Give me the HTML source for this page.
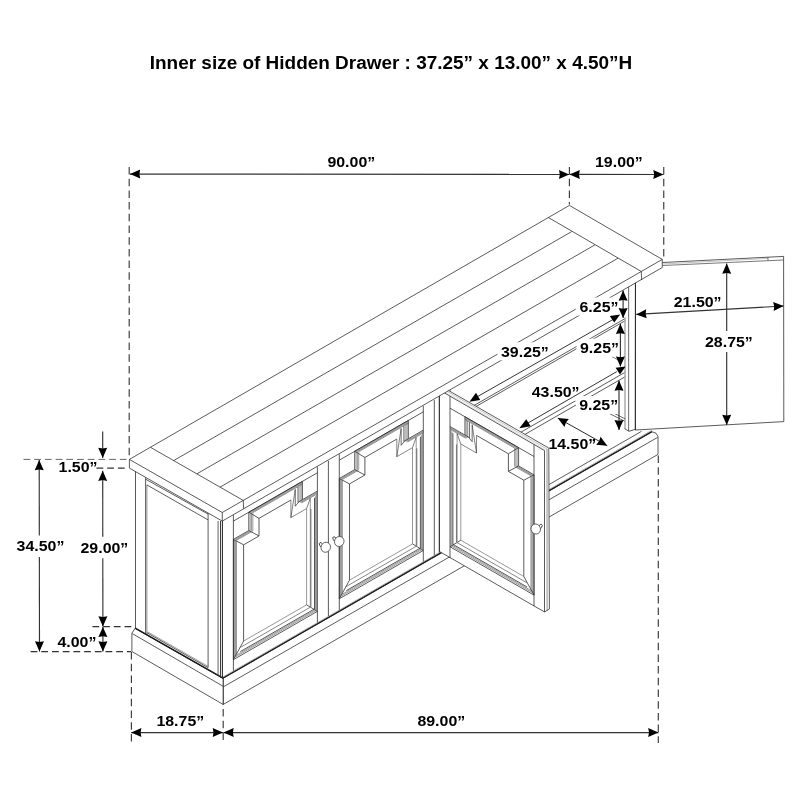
<!DOCTYPE html>
<html><head><meta charset="utf-8"><title>Sideboard dimensions</title>
<style>html,body{margin:0;padding:0;background:#fff;}svg{display:block;filter:grayscale(1);}</style></head>
<body><svg width="800" height="800" viewBox="0 0 800 800" font-family="'Liberation Sans', sans-serif">
<rect x="0" y="0" width="800" height="800" fill="#fff"/>
<line x1="455.00" y1="416.42" x2="625.50" y2="318.34" stroke="#2c2c2c" stroke-width="0.78" />
<line x1="455.00" y1="418.62" x2="625.50" y2="320.54" stroke="#2c2c2c" stroke-width="0.78" />
<line x1="500.00" y1="444.23" x2="625.50" y2="372.04" stroke="#2c2c2c" stroke-width="0.78" />
<line x1="500.00" y1="448.73" x2="625.50" y2="376.54" stroke="#2c2c2c" stroke-width="0.78" />
<line x1="625.00" y1="317.50" x2="625.00" y2="428.70" stroke="#aaa" stroke-width="1.5" />
<line x1="628.60" y1="284.00" x2="628.60" y2="431.00" stroke="#777" stroke-width="1.1" />
<polyline points="624.60,428.60 629.00,431.30 635.40,429.30" fill="none" stroke="#2c2c2c" stroke-width="0.8" stroke-linejoin="round" />
<line x1="608.75" y1="413.25" x2="624.50" y2="421.10" stroke="#2c2c2c" stroke-width="0.7" />
<line x1="614.00" y1="413.25" x2="625.25" y2="418.90" stroke="#2c2c2c" stroke-width="0.7" />
<line x1="611.50" y1="356.30" x2="618.00" y2="360.00" stroke="#2c2c2c" stroke-width="0.6" />
<line x1="540.00" y1="489.72" x2="641.50" y2="431.33" stroke="#2c2c2c" stroke-width="0.78" />
<polygon points="635.40,262.00 662.50,262.50 783.60,256.40 783.80,421.60 635.30,430.00" fill="white" stroke="#2c2c2c" stroke-width="0.78" stroke-linejoin="round" />
<line x1="662.50" y1="265.50" x2="783.60" y2="260.00" stroke="#555" stroke-width="0.8" />
<line x1="662.50" y1="264.00" x2="768.00" y2="258.40" stroke="#999" stroke-width="0.6" />
<line x1="768.00" y1="257.20" x2="768.00" y2="260.60" stroke="#2c2c2c" stroke-width="0.6" />
<line x1="635.50" y1="283.00" x2="635.40" y2="430.00" stroke="#2c2c2c" stroke-width="1.0" />
<polygon points="223.10,678.31 651.90,431.75 656.00,433.20 658.00,436.60 658.00,454.40 223.10,704.51 223.10,678.10" fill="white" stroke="#2c2c2c" stroke-width="0.78" stroke-linejoin="round" />
<line x1="223.10" y1="678.01" x2="651.90" y2="431.55" stroke="#1c1c1c" stroke-width="1.35" />
<line x1="223.10" y1="676.91" x2="651.90" y2="430.35" stroke="#777" stroke-width="0.6" />
<line x1="223.10" y1="687.01" x2="657.60" y2="437.40" stroke="#2c2c2c" stroke-width="0.78" />
<line x1="223.10" y1="678.10" x2="223.10" y2="704.40" stroke="#2c2c2c" stroke-width="0.78" />
<polygon points="135.25,628.10 223.10,678.10 223.10,704.40 131.90,651.50 131.90,633.10" fill="white" stroke="#2c2c2c" stroke-width="0.78" stroke-linejoin="round" />
<line x1="135.25" y1="628.10" x2="223.10" y2="678.10" stroke="#1c1c1c" stroke-width="1.3" />
<line x1="132.30" y1="633.60" x2="223.10" y2="686.25" stroke="#2c2c2c" stroke-width="0.78" />
<polygon points="135.50,471.50 135.50,628.10 223.00,678.00 223.00,521.00" fill="white" stroke="none" stroke-width="0" stroke-linejoin="round" />
<line x1="135.50" y1="471.00" x2="135.50" y2="628.10" stroke="#2c2c2c" stroke-width="0.78" />
<line x1="145.60" y1="477.46" x2="145.60" y2="633.60" stroke="#2c2c2c" stroke-width="0.78" />
<line x1="146.90" y1="484.91" x2="146.90" y2="634.50" stroke="#484848" stroke-width="0.6" />
<line x1="145.60" y1="479.16" x2="208.10" y2="514.11" stroke="#2c2c2c" stroke-width="0.78" />
<line x1="146.90" y1="484.91" x2="208.10" y2="519.91" stroke="#2c2c2c" stroke-width="0.78" />
<line x1="208.10" y1="513.01" x2="208.10" y2="667.60" stroke="#2c2c2c" stroke-width="0.78" />
<line x1="146.90" y1="632.70" x2="208.10" y2="667.60" stroke="#2c2c2c" stroke-width="0.78" />
<line x1="147.50" y1="631.80" x2="208.10" y2="666.30" stroke="#484848" stroke-width="0.5" />
<line x1="218.10" y1="521.00" x2="218.10" y2="676.00" stroke="#484848" stroke-width="0.5" />
<line x1="220.60" y1="521.00" x2="220.60" y2="677.50" stroke="#2c2c2c" stroke-width="0.78" />
<line x1="222.50" y1="521.00" x2="222.50" y2="678.00" stroke="#2c2c2c" stroke-width="0.78" />
<line x1="135.25" y1="628.10" x2="223.10" y2="678.10" stroke="#1c1c1c" stroke-width="1.3" />
<line x1="233.40" y1="515.09" x2="233.40" y2="670.79" stroke="#2c2c2c" stroke-width="0.78" />
<line x1="317.40" y1="466.77" x2="317.40" y2="622.47" stroke="#2c2c2c" stroke-width="0.78" />
<line x1="328.40" y1="460.94" x2="328.40" y2="616.14" stroke="#2c2c2c" stroke-width="0.78" />
<polyline points="233.40,659.69 233.40,539.39 248.80,530.53 248.80,512.23 302.45,481.37 302.45,499.67 317.40,491.07" fill="none" stroke="#2c2c2c" stroke-width="0.78" stroke-linejoin="round" />
<line x1="233.40" y1="521.09" x2="317.40" y2="472.77" stroke="#2c2c2c" stroke-width="0.78" />
<line x1="233.40" y1="659.69" x2="317.40" y2="611.37" stroke="#2c2c2c" stroke-width="0.78" />
<polyline points="243.60,641.07 243.60,544.82 259.00,535.96 259.00,518.36 290.90,500.01" fill="none" stroke="#2c2c2c" stroke-width="0.78" stroke-linejoin="round" />
<polyline points="290.90,500.01 290.90,517.61 306.60,508.58" fill="none" stroke="#555" stroke-width="0.7" stroke-linejoin="round" />
<polyline points="306.60,508.58 306.60,604.83 243.60,641.07" fill="none" stroke="#777" stroke-width="0.75" stroke-linejoin="round" />
<line x1="233.40" y1="659.69" x2="243.60" y2="641.07" stroke="#2c2c2c" stroke-width="0.78" />
<line x1="317.40" y1="611.37" x2="306.60" y2="604.83" stroke="#2c2c2c" stroke-width="0.78" />
<line x1="233.40" y1="539.39" x2="243.60" y2="544.82" stroke="#2c2c2c" stroke-width="0.78" />
<line x1="248.80" y1="530.53" x2="259.00" y2="535.96" stroke="#2c2c2c" stroke-width="0.78" />
<line x1="248.80" y1="512.23" x2="259.00" y2="518.36" stroke="#2c2c2c" stroke-width="0.78" />
<line x1="234.50" y1="539.96" x2="234.50" y2="657.73" stroke="#484848" stroke-width="0.55" />
<line x1="250.23" y1="512.40" x2="250.23" y2="530.59" stroke="#484848" stroke-width="0.55" />
<line x1="250.23" y1="512.40" x2="302.45" y2="482.36" stroke="#484848" stroke-width="0.55" />
<line x1="234.50" y1="539.74" x2="250.23" y2="530.70" stroke="#484848" stroke-width="0.55" />
<line x1="299.65" y1="502.27" x2="317.40" y2="492.06" stroke="#484848" stroke-width="0.55" />
<line x1="235.50" y1="540.49" x2="235.50" y2="655.96" stroke="#484848" stroke-width="0.55" />
<line x1="251.53" y1="512.55" x2="251.53" y2="530.64" stroke="#484848" stroke-width="0.55" />
<line x1="251.53" y1="512.55" x2="302.45" y2="483.26" stroke="#484848" stroke-width="0.55" />
<line x1="235.50" y1="540.07" x2="251.53" y2="530.85" stroke="#484848" stroke-width="0.55" />
<line x1="300.65" y1="502.59" x2="317.40" y2="492.96" stroke="#484848" stroke-width="0.55" />
<line x1="236.50" y1="541.01" x2="236.50" y2="654.18" stroke="#484848" stroke-width="0.55" />
<line x1="252.83" y1="512.70" x2="252.83" y2="530.69" stroke="#484848" stroke-width="0.55" />
<line x1="252.83" y1="512.70" x2="302.45" y2="484.16" stroke="#484848" stroke-width="0.55" />
<line x1="236.50" y1="540.39" x2="252.83" y2="531.00" stroke="#484848" stroke-width="0.55" />
<line x1="301.65" y1="502.92" x2="317.40" y2="493.86" stroke="#484848" stroke-width="0.55" />
<line x1="310.90" y1="509.11" x2="310.90" y2="606.86" stroke="#888" stroke-width="1.1" />
<line x1="314.50" y1="497.74" x2="314.50" y2="608.94" stroke="#2c2c2c" stroke-width="0.8" />
<line x1="315.50" y1="496.16" x2="315.50" y2="609.56" stroke="#484848" stroke-width="0.55" />
<line x1="316.50" y1="494.58" x2="316.50" y2="610.38" stroke="#484848" stroke-width="0.55" />
<line x1="295.25" y1="489.41" x2="295.25" y2="506.26" stroke="#2c2c2c" stroke-width="0.7" />
<line x1="298.05" y1="486.90" x2="298.05" y2="502.50" stroke="#2c2c2c" stroke-width="0.8" />
<line x1="299.95" y1="485.40" x2="299.95" y2="501.40" stroke="#484848" stroke-width="0.55" />
<line x1="301.20" y1="484.09" x2="301.20" y2="500.69" stroke="#484848" stroke-width="0.55" />
<line x1="295.25" y1="506.26" x2="298.55" y2="502.21" stroke="#2c2c2c" stroke-width="0.7" />
<line x1="298.05" y1="502.20" x2="302.45" y2="499.67" stroke="#2c2c2c" stroke-width="0.78" />
<line x1="290.90" y1="517.61" x2="295.25" y2="489.41" stroke="#2c2c2c" stroke-width="0.6" />
<line x1="306.60" y1="508.58" x2="310.30" y2="498.35" stroke="#2c2c2c" stroke-width="0.6" />
<line x1="310.30" y1="498.35" x2="310.30" y2="607.20" stroke="#484848" stroke-width="0.55" />
<line x1="239.60" y1="647.87" x2="310.90" y2="606.86" stroke="#888" stroke-width="1.0" />
<line x1="240.40" y1="651.56" x2="314.50" y2="608.94" stroke="#2c2c2c" stroke-width="0.8" />
<line x1="234.90" y1="655.97" x2="315.50" y2="609.61" stroke="#484848" stroke-width="0.55" />
<line x1="234.20" y1="657.68" x2="316.50" y2="610.33" stroke="#484848" stroke-width="0.55" />
<line x1="339.30" y1="454.17" x2="339.30" y2="609.87" stroke="#2c2c2c" stroke-width="0.78" />
<line x1="423.30" y1="405.85" x2="423.30" y2="561.55" stroke="#2c2c2c" stroke-width="0.78" />
<line x1="434.30" y1="400.02" x2="434.30" y2="555.22" stroke="#2c2c2c" stroke-width="0.78" />
<polyline points="339.30,598.77 339.30,478.47 354.70,469.61 354.70,451.31 408.35,420.45 408.35,438.75 423.30,430.15" fill="none" stroke="#2c2c2c" stroke-width="0.78" stroke-linejoin="round" />
<line x1="339.30" y1="460.17" x2="423.30" y2="411.85" stroke="#2c2c2c" stroke-width="0.78" />
<line x1="339.30" y1="598.77" x2="423.30" y2="550.45" stroke="#2c2c2c" stroke-width="0.78" />
<polyline points="349.50,580.15 349.50,483.90 364.90,475.04 364.90,457.44 396.80,439.09" fill="none" stroke="#2c2c2c" stroke-width="0.78" stroke-linejoin="round" />
<polyline points="396.80,439.09 396.80,456.69 412.50,447.66" fill="none" stroke="#555" stroke-width="0.7" stroke-linejoin="round" />
<polyline points="412.50,447.66 412.50,543.91 349.50,580.15" fill="none" stroke="#777" stroke-width="0.75" stroke-linejoin="round" />
<line x1="339.30" y1="598.77" x2="349.50" y2="580.15" stroke="#2c2c2c" stroke-width="0.78" />
<line x1="423.30" y1="550.45" x2="412.50" y2="543.91" stroke="#2c2c2c" stroke-width="0.78" />
<line x1="339.30" y1="478.47" x2="349.50" y2="483.90" stroke="#2c2c2c" stroke-width="0.78" />
<line x1="354.70" y1="469.61" x2="364.90" y2="475.04" stroke="#2c2c2c" stroke-width="0.78" />
<line x1="354.70" y1="451.31" x2="364.90" y2="457.44" stroke="#2c2c2c" stroke-width="0.78" />
<line x1="340.40" y1="479.05" x2="340.40" y2="596.82" stroke="#484848" stroke-width="0.55" />
<line x1="356.13" y1="451.48" x2="356.13" y2="469.67" stroke="#484848" stroke-width="0.55" />
<line x1="356.13" y1="451.48" x2="408.35" y2="421.44" stroke="#484848" stroke-width="0.55" />
<line x1="340.40" y1="478.83" x2="356.13" y2="469.78" stroke="#484848" stroke-width="0.55" />
<line x1="405.55" y1="441.35" x2="423.30" y2="431.14" stroke="#484848" stroke-width="0.55" />
<line x1="341.40" y1="479.57" x2="341.40" y2="595.04" stroke="#484848" stroke-width="0.55" />
<line x1="357.43" y1="451.63" x2="357.43" y2="469.72" stroke="#484848" stroke-width="0.55" />
<line x1="357.43" y1="451.63" x2="408.35" y2="422.34" stroke="#484848" stroke-width="0.55" />
<line x1="341.40" y1="479.15" x2="357.43" y2="469.93" stroke="#484848" stroke-width="0.55" />
<line x1="406.55" y1="441.68" x2="423.30" y2="432.04" stroke="#484848" stroke-width="0.55" />
<line x1="342.40" y1="480.10" x2="342.40" y2="593.27" stroke="#484848" stroke-width="0.55" />
<line x1="358.73" y1="451.78" x2="358.73" y2="469.77" stroke="#484848" stroke-width="0.55" />
<line x1="358.73" y1="451.78" x2="408.35" y2="423.24" stroke="#484848" stroke-width="0.55" />
<line x1="342.40" y1="479.48" x2="358.73" y2="470.08" stroke="#484848" stroke-width="0.55" />
<line x1="407.55" y1="442.00" x2="423.30" y2="432.94" stroke="#484848" stroke-width="0.55" />
<line x1="416.80" y1="448.19" x2="416.80" y2="545.94" stroke="#888" stroke-width="1.1" />
<line x1="420.40" y1="436.82" x2="420.40" y2="548.02" stroke="#2c2c2c" stroke-width="0.8" />
<line x1="421.40" y1="435.24" x2="421.40" y2="548.64" stroke="#484848" stroke-width="0.55" />
<line x1="422.40" y1="433.67" x2="422.40" y2="549.47" stroke="#484848" stroke-width="0.55" />
<line x1="401.15" y1="428.49" x2="401.15" y2="445.34" stroke="#2c2c2c" stroke-width="0.7" />
<line x1="403.95" y1="425.98" x2="403.95" y2="441.58" stroke="#2c2c2c" stroke-width="0.8" />
<line x1="405.85" y1="424.49" x2="405.85" y2="440.49" stroke="#484848" stroke-width="0.55" />
<line x1="407.10" y1="423.17" x2="407.10" y2="439.77" stroke="#484848" stroke-width="0.55" />
<line x1="401.15" y1="445.34" x2="404.45" y2="441.29" stroke="#2c2c2c" stroke-width="0.7" />
<line x1="403.95" y1="441.28" x2="408.35" y2="438.75" stroke="#2c2c2c" stroke-width="0.78" />
<line x1="396.80" y1="456.69" x2="401.15" y2="428.49" stroke="#2c2c2c" stroke-width="0.6" />
<line x1="412.50" y1="447.66" x2="416.20" y2="437.43" stroke="#2c2c2c" stroke-width="0.6" />
<line x1="416.20" y1="437.43" x2="416.20" y2="546.28" stroke="#484848" stroke-width="0.55" />
<line x1="345.50" y1="586.95" x2="416.80" y2="545.94" stroke="#888" stroke-width="1.0" />
<line x1="346.30" y1="590.64" x2="420.40" y2="548.02" stroke="#2c2c2c" stroke-width="0.8" />
<line x1="340.80" y1="595.06" x2="421.40" y2="548.69" stroke="#484848" stroke-width="0.55" />
<line x1="340.10" y1="596.76" x2="422.40" y2="549.42" stroke="#484848" stroke-width="0.55" />
<line x1="439.40" y1="396.59" x2="439.40" y2="552.59" stroke="#2c2c2c" stroke-width="0.78" />
<line x1="450.20" y1="390.38" x2="450.20" y2="546.38" stroke="#2c2c2c" stroke-width="0.78" />
<line x1="218.10" y1="521.00" x2="218.10" y2="676.00" stroke="#484848" stroke-width="0.5" />
<line x1="220.60" y1="521.00" x2="220.60" y2="677.50" stroke="#2c2c2c" stroke-width="0.78" />
<line x1="222.50" y1="521.00" x2="222.50" y2="678.00" stroke="#2c2c2c" stroke-width="0.78" />
<polygon points="439.40,390.06 443.40,387.56 548.80,448.04 549.40,609.04 544.50,611.94 439.40,551.46" fill="white" stroke="none" stroke-width="0" stroke-linejoin="round" />
<line x1="534.00" y1="444.50" x2="534.00" y2="606.20" stroke="#2c2c2c" stroke-width="0.78" />
<line x1="450.00" y1="396.16" x2="450.00" y2="557.86" stroke="#2c2c2c" stroke-width="0.78" />
<line x1="439.40" y1="390.56" x2="439.40" y2="551.76" stroke="#2c2c2c" stroke-width="0.78" />
<polyline points="534.00,595.10 534.00,474.80 518.60,465.94 518.60,447.64 464.95,416.76 464.95,435.06 450.00,426.46" fill="none" stroke="#2c2c2c" stroke-width="0.78" stroke-linejoin="round" />
<line x1="534.00" y1="456.50" x2="450.00" y2="408.16" stroke="#2c2c2c" stroke-width="0.78" />
<line x1="534.00" y1="595.10" x2="450.00" y2="546.76" stroke="#2c2c2c" stroke-width="0.78" />
<polyline points="523.80,576.48 523.80,480.23 508.40,471.37 508.40,453.77 476.50,435.41" fill="none" stroke="#2c2c2c" stroke-width="0.78" stroke-linejoin="round" />
<polyline points="476.50,435.41 476.50,453.01 460.80,443.97" fill="none" stroke="#555" stroke-width="0.7" stroke-linejoin="round" />
<polyline points="460.80,443.97 460.80,540.22 523.80,576.48" fill="none" stroke="#777" stroke-width="0.75" stroke-linejoin="round" />
<line x1="534.00" y1="595.10" x2="523.80" y2="576.48" stroke="#2c2c2c" stroke-width="0.78" />
<line x1="450.00" y1="546.76" x2="460.80" y2="540.22" stroke="#2c2c2c" stroke-width="0.78" />
<line x1="534.00" y1="474.80" x2="523.80" y2="480.23" stroke="#2c2c2c" stroke-width="0.78" />
<line x1="518.60" y1="465.94" x2="508.40" y2="471.37" stroke="#2c2c2c" stroke-width="0.78" />
<line x1="518.60" y1="447.64" x2="508.40" y2="453.77" stroke="#2c2c2c" stroke-width="0.78" />
<line x1="532.90" y1="475.38" x2="532.90" y2="593.15" stroke="#484848" stroke-width="0.55" />
<line x1="517.17" y1="447.80" x2="517.17" y2="465.99" stroke="#484848" stroke-width="0.55" />
<line x1="517.17" y1="447.80" x2="464.95" y2="417.75" stroke="#484848" stroke-width="0.55" />
<line x1="532.90" y1="475.16" x2="517.17" y2="466.10" stroke="#484848" stroke-width="0.55" />
<line x1="467.75" y1="437.66" x2="450.00" y2="427.45" stroke="#484848" stroke-width="0.55" />
<line x1="531.90" y1="475.90" x2="531.90" y2="591.37" stroke="#484848" stroke-width="0.55" />
<line x1="515.87" y1="447.96" x2="515.87" y2="466.05" stroke="#484848" stroke-width="0.55" />
<line x1="515.87" y1="447.96" x2="464.95" y2="418.65" stroke="#484848" stroke-width="0.55" />
<line x1="531.90" y1="475.48" x2="515.87" y2="466.26" stroke="#484848" stroke-width="0.55" />
<line x1="466.75" y1="437.99" x2="450.00" y2="428.35" stroke="#484848" stroke-width="0.55" />
<line x1="530.90" y1="476.43" x2="530.90" y2="589.60" stroke="#484848" stroke-width="0.55" />
<line x1="514.57" y1="448.11" x2="514.57" y2="466.10" stroke="#484848" stroke-width="0.55" />
<line x1="514.57" y1="448.11" x2="464.95" y2="419.55" stroke="#484848" stroke-width="0.55" />
<line x1="530.90" y1="475.81" x2="514.57" y2="466.41" stroke="#484848" stroke-width="0.55" />
<line x1="465.75" y1="438.31" x2="450.00" y2="429.25" stroke="#484848" stroke-width="0.55" />
<line x1="456.50" y1="444.50" x2="456.50" y2="542.25" stroke="#888" stroke-width="1.1" />
<line x1="452.90" y1="433.13" x2="452.90" y2="544.33" stroke="#2c2c2c" stroke-width="0.8" />
<line x1="451.90" y1="431.55" x2="451.90" y2="544.95" stroke="#484848" stroke-width="0.55" />
<line x1="450.90" y1="429.98" x2="450.90" y2="545.78" stroke="#484848" stroke-width="0.55" />
<line x1="472.15" y1="424.81" x2="472.15" y2="441.66" stroke="#2c2c2c" stroke-width="0.7" />
<line x1="469.35" y1="422.29" x2="469.35" y2="437.89" stroke="#2c2c2c" stroke-width="0.8" />
<line x1="467.45" y1="420.80" x2="467.45" y2="436.80" stroke="#484848" stroke-width="0.55" />
<line x1="466.20" y1="419.48" x2="466.20" y2="436.08" stroke="#484848" stroke-width="0.55" />
<line x1="472.15" y1="441.66" x2="468.85" y2="437.61" stroke="#2c2c2c" stroke-width="0.7" />
<line x1="469.35" y1="437.59" x2="464.95" y2="435.06" stroke="#2c2c2c" stroke-width="0.78" />
<line x1="476.50" y1="453.01" x2="472.15" y2="424.81" stroke="#2c2c2c" stroke-width="0.6" />
<line x1="460.80" y1="443.97" x2="457.10" y2="433.74" stroke="#2c2c2c" stroke-width="0.6" />
<line x1="457.10" y1="433.74" x2="457.10" y2="542.59" stroke="#484848" stroke-width="0.55" />
<line x1="527.80" y1="583.28" x2="456.50" y2="542.25" stroke="#888" stroke-width="1.0" />
<line x1="527.00" y1="586.97" x2="452.90" y2="544.33" stroke="#2c2c2c" stroke-width="0.8" />
<line x1="532.50" y1="591.39" x2="451.90" y2="545.00" stroke="#484848" stroke-width="0.55" />
<line x1="533.20" y1="593.09" x2="450.90" y2="545.73" stroke="#484848" stroke-width="0.55" />
<line x1="439.40" y1="390.06" x2="544.50" y2="450.54" stroke="#2c2c2c" stroke-width="0.78" />
<line x1="544.50" y1="450.54" x2="544.50" y2="611.94" stroke="#2c2c2c" stroke-width="0.78" />
<line x1="439.40" y1="551.46" x2="544.50" y2="611.94" stroke="#2c2c2c" stroke-width="0.78" />
<line x1="439.40" y1="390.06" x2="439.40" y2="551.46" stroke="#2c2c2c" stroke-width="0.78" />
<line x1="443.40" y1="387.56" x2="548.80" y2="448.04" stroke="#2c2c2c" stroke-width="0.78" />
<line x1="442.00" y1="388.36" x2="547.00" y2="449.04" stroke="#888" stroke-width="0.5" />
<line x1="440.40" y1="389.36" x2="545.50" y2="449.94" stroke="#aaa" stroke-width="0.4" />
<line x1="548.80" y1="448.04" x2="549.40" y2="609.04" stroke="#2c2c2c" stroke-width="0.78" />
<line x1="547.00" y1="449.04" x2="547.10" y2="610.54" stroke="#484848" stroke-width="0.6" />
<line x1="544.50" y1="611.94" x2="549.40" y2="609.04" stroke="#2c2c2c" stroke-width="0.78" />
<polygon points="129.40,459.40 569.40,205.40 662.25,259.40 662.25,267.50 222.25,521.10 129.40,468.10" fill="white" stroke="#2c2c2c" stroke-width="0.78" stroke-linejoin="round" />
<polyline points="129.40,459.40 222.25,512.50 662.25,259.40" fill="none" stroke="#2c2c2c" stroke-width="0.78" stroke-linejoin="round" />
<line x1="222.25" y1="512.50" x2="222.25" y2="521.10" stroke="#2c2c2c" stroke-width="0.78" />
<line x1="243.25" y1="500.42" x2="150.40" y2="447.28" stroke="#2c2c2c" stroke-width="0.78" />
<line x1="243.25" y1="500.42" x2="243.65" y2="508.92" stroke="#2c2c2c" stroke-width="0.78" />
<line x1="641.25" y1="271.48" x2="548.40" y2="217.52" stroke="#2c2c2c" stroke-width="0.78" />
<line x1="641.25" y1="271.48" x2="641.65" y2="279.98" stroke="#2c2c2c" stroke-width="0.78" />
<line x1="220.04" y1="487.15" x2="618.04" y2="258.20" stroke="#2c2c2c" stroke-width="0.78" />
<line x1="196.82" y1="473.87" x2="594.83" y2="244.93" stroke="#2c2c2c" stroke-width="0.78" />
<line x1="173.61" y1="460.60" x2="571.61" y2="231.65" stroke="#2c2c2c" stroke-width="0.78" />
<ellipse cx="321.15" cy="544.85" rx="1.5" ry="2.5" transform="rotate(-28 321.15 544.85)" fill="white" stroke="#333" stroke-width="0.8"/>
<ellipse cx="325.75" cy="547.25" rx="4.7" ry="5.1" transform="rotate(25 325.75 547.25)" fill="white" stroke="#444" stroke-width="0.75"/>
<ellipse cx="334.65" cy="539.10" rx="1.5" ry="2.5" transform="rotate(-28 334.65 539.10)" fill="white" stroke="#333" stroke-width="0.8"/>
<ellipse cx="339.25" cy="541.50" rx="4.7" ry="5.1" transform="rotate(25 339.25 541.50)" fill="white" stroke="#444" stroke-width="0.75"/>
<ellipse cx="540.35" cy="526.60" rx="1.5" ry="2.5" transform="rotate(28 540.35 526.60)" fill="white" stroke="#333" stroke-width="0.8"/>
<ellipse cx="535.75" cy="529.00" rx="4.7" ry="5.1" transform="rotate(-25 535.75 529.00)" fill="white" stroke="#444" stroke-width="0.75"/>
<rect x="575.70" y="297.60" width="43.80" height="17.90" fill="white"/>
<rect x="497.50" y="342.35" width="52.70" height="17.90" fill="white"/>
<rect x="576.50" y="338.70" width="43.50" height="17.90" fill="white"/>
<rect x="528.25" y="382.85" width="52.70" height="17.90" fill="white"/>
<rect x="575.90" y="396.10" width="43.60" height="17.90" fill="white"/>
<rect x="549.70" y="434.60" width="47.80" height="17.90" fill="white"/>
<line x1="129.20" y1="167.00" x2="129.20" y2="458.00" stroke="#3a3a3a" stroke-width="1.15" stroke-dasharray="7.5 4.2"/>
<line x1="569.40" y1="167.00" x2="569.40" y2="204.50" stroke="#3a3a3a" stroke-width="1.15" stroke-dasharray="7.5 4.2"/>
<line x1="663.75" y1="167.00" x2="663.75" y2="258.50" stroke="#3a3a3a" stroke-width="1.15" stroke-dasharray="7.5 4.2"/>
<line x1="131.40" y1="652.00" x2="131.40" y2="743.00" stroke="#3a3a3a" stroke-width="1.15" stroke-dasharray="7.5 4.2"/>
<line x1="223.20" y1="709.00" x2="223.20" y2="744.00" stroke="#3a3a3a" stroke-width="1.15" stroke-dasharray="7.5 4.2"/>
<line x1="658.30" y1="455.50" x2="658.30" y2="743.00" stroke="#3a3a3a" stroke-width="1.15" stroke-dasharray="7.5 4.2"/>
<line x1="23.50" y1="459.40" x2="126.50" y2="459.40" stroke="#666" stroke-width="1.0" stroke-dasharray="6.8 3.9"/>
<line x1="96.50" y1="468.10" x2="126.50" y2="468.10" stroke="#333" stroke-width="1.15" stroke-dasharray="6.8 3.9"/>
<line x1="30.60" y1="651.65" x2="131.00" y2="651.65" stroke="#333" stroke-width="1.15" stroke-dasharray="6.8 3.9"/>
<line x1="92.40" y1="626.60" x2="133.00" y2="626.60" stroke="#333" stroke-width="1.15" stroke-dasharray="6.8 3.9"/>
<line x1="130.00" y1="174.10" x2="569.20" y2="174.40" stroke="#333" stroke-width="1.15" />
<polygon points="130.00,174.10 140.20,169.61 139.38,174.11 140.20,178.61" fill="#000"/>
<polygon points="569.20,174.40 559.00,178.89 559.82,174.39 559.00,169.89" fill="#000"/>
<line x1="569.60" y1="174.40" x2="663.50" y2="174.50" stroke="#333" stroke-width="1.15" />
<polygon points="569.60,174.40 579.80,169.91 578.98,174.41 579.80,178.91" fill="#000"/>
<polygon points="663.50,174.50 653.30,178.99 654.12,174.49 653.30,169.99" fill="#000"/>
<line x1="131.20" y1="732.60" x2="222.90" y2="732.60" stroke="#333" stroke-width="1.15" />
<polygon points="131.20,732.60 141.40,728.10 140.58,732.60 141.40,737.10" fill="#000"/>
<polygon points="222.90,732.60 212.70,737.10 213.52,732.60 212.70,728.10" fill="#000"/>
<line x1="223.50" y1="732.60" x2="658.40" y2="732.60" stroke="#333" stroke-width="1.15" />
<polygon points="223.50,732.60 233.70,728.10 232.88,732.60 233.70,737.10" fill="#000"/>
<polygon points="658.40,732.60 648.20,737.10 649.02,732.60 648.20,728.10" fill="#000"/>
<line x1="39.20" y1="460.00" x2="39.32" y2="535.50" stroke="#333" stroke-width="1.15" />
<line x1="39.35" y1="557.00" x2="39.50" y2="651.50" stroke="#333" stroke-width="1.15" />
<polygon points="39.20,460.00 43.72,470.19 39.21,469.38 34.72,470.21" fill="#000"/>
<polygon points="39.50,651.50 34.98,641.31 39.49,642.12 43.98,641.29" fill="#000"/>
<line x1="102.70" y1="470.70" x2="102.78" y2="536.66" stroke="#333" stroke-width="1.15" />
<line x1="102.81" y1="558.14" x2="102.90" y2="626.40" stroke="#333" stroke-width="1.15" />
<polygon points="102.70,470.70 107.21,480.89 102.71,480.08 98.21,480.91" fill="#000"/>
<polygon points="102.90,626.40 98.39,616.21 102.89,617.02 107.39,616.19" fill="#000"/>
<line x1="102.70" y1="431.40" x2="102.70" y2="458.00" stroke="#333" stroke-width="1.15" />
<polygon points="102.70,458.00 98.20,447.80 102.70,448.62 107.20,447.80" fill="#000"/>
<line x1="102.90" y1="626.90" x2="102.90" y2="651.50" stroke="#333" stroke-width="1.15" />
<polygon points="102.90,626.90 107.40,637.10 102.90,636.28 98.40,637.10" fill="#000"/>
<polygon points="102.90,651.50 98.40,641.30 102.90,642.12 107.40,641.30" fill="#000"/>
<line x1="623.10" y1="290.60" x2="623.10" y2="318.10" stroke="#333" stroke-width="1.15" />
<polygon points="623.10,290.60 627.60,300.80 623.10,299.98 618.60,300.80" fill="#000"/>
<polygon points="623.10,318.10 618.60,307.90 623.10,308.72 627.60,307.90" fill="#000"/>
<line x1="620.40" y1="323.75" x2="620.40" y2="366.60" stroke="#333" stroke-width="1.15" />
<polygon points="620.40,323.75 624.90,333.95 620.40,333.13 615.90,333.95" fill="#000"/>
<polygon points="620.40,366.60 615.90,356.40 620.40,357.22 624.90,356.40" fill="#000"/>
<line x1="619.00" y1="380.60" x2="619.00" y2="430.10" stroke="#333" stroke-width="1.15" />
<polygon points="619.00,380.60 623.50,390.80 619.00,389.98 614.50,390.80" fill="#000"/>
<polygon points="619.00,430.10 614.50,419.90 619.00,420.72 623.50,419.90" fill="#000"/>
<line x1="477.50" y1="396.60" x2="613.20" y2="319.40" stroke="#2a2a2a" stroke-width="0.95" />
<polygon points="469.50,401.75 476.00,392.75 480.20,400.00" fill="#000"/>
<polygon points="609.75,316.00 620.20,314.40 614.25,322.60" fill="#000"/>
<line x1="528.00" y1="423.00" x2="616.80" y2="371.60" stroke="#2a2a2a" stroke-width="0.95" />
<polygon points="519.30,428.20 526.25,419.25 530.70,426.25" fill="#000"/>
<polygon points="615.60,367.80 625.60,366.50 620.00,374.60" fill="#000"/>
<line x1="557.75" y1="418.00" x2="607.25" y2="445.75" stroke="#2a2a2a" stroke-width="1.0" />
<polygon points="557.75,418.00 568.85,419.06 565.94,422.59 564.45,426.91" fill="#000"/>
<polygon points="607.25,445.75 596.15,444.69 599.06,441.16 600.55,436.84" fill="#000"/>
<line x1="636.25" y1="314.40" x2="783.60" y2="306.00" stroke="#333" stroke-width="1.15" />
<polygon points="636.25,314.40 646.18,309.33 645.62,313.87 646.69,318.31" fill="#000"/>
<polygon points="783.60,306.00 773.67,311.07 774.23,306.53 773.16,302.09" fill="#000"/>
<line x1="726.70" y1="263.60" x2="726.70" y2="331.00" stroke="#333" stroke-width="1.15" />
<line x1="726.70" y1="352.00" x2="726.70" y2="425.00" stroke="#333" stroke-width="1.15" />
<polygon points="726.70,263.60 731.20,273.80 726.70,272.98 722.20,273.80" fill="#000"/>
<polygon points="726.70,425.00 722.20,414.80 726.70,415.62 731.20,414.80" fill="#000"/>
<g font-family="'Liberation Sans', sans-serif" font-weight="bold" fill="#000">
<text x="149.75" y="69.30" font-size="18.97" text-anchor="start">Inner size of Hidden Drawer : 37.25&#8221; x 13.00&#8221; x 4.50&#8221;H</text>
<text transform="translate(327.40,166.80) scale(1.045,1)" font-size="15.25">90.00&#8221;</text>
<text transform="translate(595.00,167.40) scale(1.045,1)" font-size="15.25">19.00&#8221;</text>
<text transform="translate(156.40,725.70) scale(1.045,1)" font-size="15.25">18.75&#8221;</text>
<text transform="translate(417.40,726.00) scale(1.045,1)" font-size="15.25">89.00&#8221;</text>
<text transform="translate(16.60,551.30) scale(1.045,1)" font-size="15.25">34.50&#8221;</text>
<text transform="translate(80.50,553.00) scale(1.045,1)" font-size="15.25">29.00&#8221;</text>
<text transform="translate(58.60,471.60) scale(1.045,1)" font-size="15.25">1.50&#8221;</text>
<text transform="translate(57.40,647.20) scale(1.045,1)" font-size="15.25">4.00&#8221;</text>
<text transform="translate(579.50,312.00) scale(1.045,1)" font-size="15.25">6.25&#8221;</text>
<text transform="translate(501.00,356.75) scale(1.045,1)" font-size="15.25">39.25&#8221;</text>
<text transform="translate(580.00,353.10) scale(1.045,1)" font-size="15.25">9.25&#8221;</text>
<text transform="translate(531.75,397.25) scale(1.045,1)" font-size="15.25">43.50&#8221;</text>
<text transform="translate(579.20,410.40) scale(1.045,1)" font-size="15.25">9.25&#8221;</text>
<text transform="translate(548.40,449.00) scale(1.045,1)" font-size="15.25">14.50&#8221;</text>
<text transform="translate(673.75,307.00) scale(1.045,1)" font-size="15.25">21.50&#8221;</text>
<text transform="translate(705.00,347.00) scale(1.045,1)" font-size="15.25">28.75&#8221;</text>
</g>
</svg></body></html>
